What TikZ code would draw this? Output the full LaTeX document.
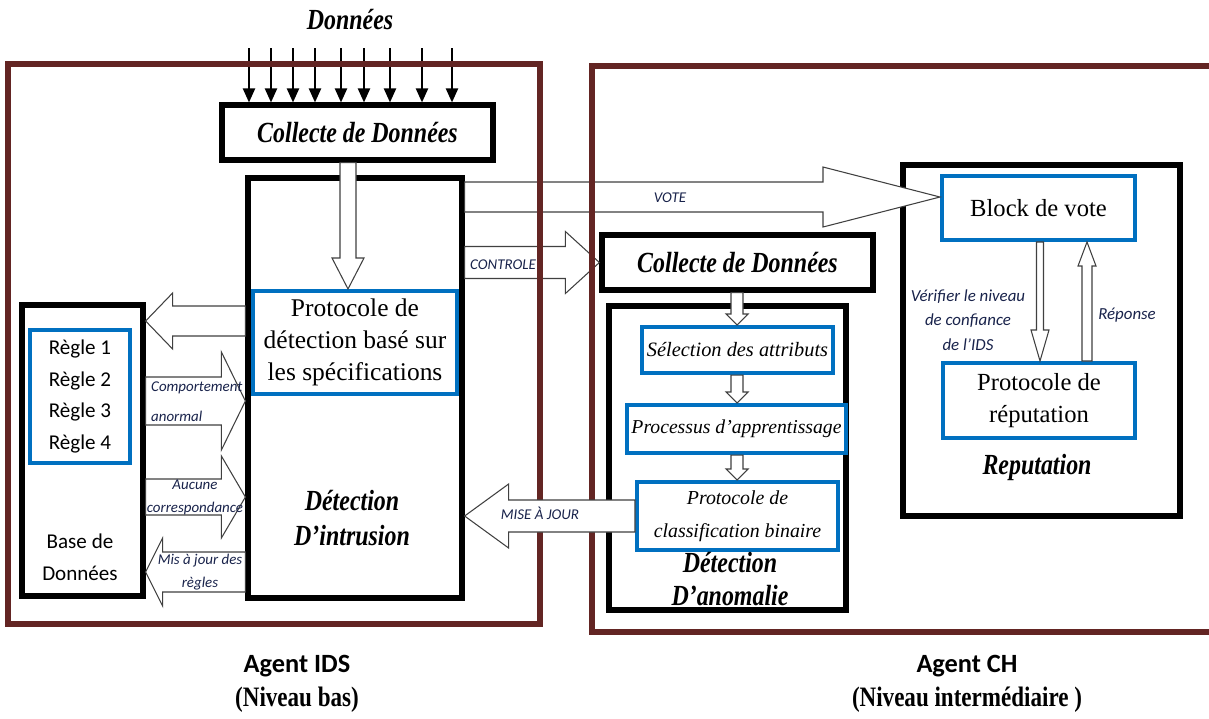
\documentclass[tikz,border=0pt]{standalone}
\usepackage{fontspec}
\setmainfont{Liberation Serif}
\setsansfont{Carlito}
\newfontfamily\condserif[FakeStretch=0.82]{Liberation Serif}
\usetikzlibrary{arrows.meta, calc, positioning}
\usepackage{xcolor}

\definecolor{framebrown}{RGB}{99,37,35}
\definecolor{boxblue}{RGB}{0,112,192}
\definecolor{inkblue}{RGB}{25,35,75}

\tikzset{
  frame/.style={draw=framebrown, line width=3pt},
  blk/.style={draw=black, line width=3pt, fill=white, inner sep=0pt},
  blubox/.style={draw=boxblue, line width=2.3pt, fill=white, inner sep=0pt, align=center},
  ttl/.style={font=\fontsize{16.6}{20}\selectfont\condserif\bfseries\itshape, align=center},
  lbl/.style={font=\fontsize{8.5}{13}\selectfont\sffamily\itshape, text=inkblue, align=center},
  % hollow block arrow: shaft half width / head half width / head length (px)
  fat/.style n args={3}{draw=black!75, fill=white, line width=0.6pt, to path={
    ($(\tikztotarget)!#3*0.02cm!(\tikztostart)$) coordinate (fathead)
    ($(\tikztostart)!#1*0.02cm!90:(\tikztotarget)$)
    -- ($(fathead)!#1*0.02cm!-90:(\tikztostart)$)
    -- ($(fathead)!#2*0.02cm!-90:(\tikztostart)$)
    -- (\tikztotarget)
    -- ($(fathead)!#2*0.02cm!90:(\tikztostart)$)
    -- ($(fathead)!#1*0.02cm!90:(\tikztostart)$)
    -- ($(\tikztostart)!#1*0.02cm!-90:(\tikztotarget)$)
    -- cycle}}
}

\begin{document}
\begin{tikzpicture}[x=0.02cm, y=-0.02cm]
  \useasboundingbox (0,0) rectangle (1209,718);

  % agent IDS
  \node[ttl] (don) at (350,20) {Données};
  \node[blk, ttl, minimum width=5.42cm, minimum height=1.1cm] (coll1) at (357.5,132.5) {Collecte de Données};
  \foreach \x [count=\i] in {249,271,293,315,341,364,390,422,452} {
    \coordinate (in\i) at (\x,48);
    \draw[-{Triangle[length=8pt,width=7pt]}, line width=0.9pt] (in\i) -- (in\i |- coll1.north);
  }

  \node[blk, minimum width=4.28cm, minimum height=8.4cm] (det1) at (355,388) {};
  \node[ttl] (det1lbl) at (352,518) {Détection\\D’intrusion};
  \node[blubox, minimum width=4.08cm, minimum height=2.06cm,
        font=\fontsize{14.5}{18.4}\selectfont] (proto) at (355,342.5)
        {Protocole de\\détection basé sur\\les spécifications};
  \coordinate (pd) at (348,0);
  \draw[fat={8}{16}{31}] (coll1.south -| pd) to (proto.north -| pd);

  \node[blk, minimum width=2.42cm, minimum height=5.82cm] (base) at (82.5,450.5) {};
  \node[blubox, minimum width=2cm, minimum height=2.66cm,
        font=\fontsize{12}{18}\selectfont\sffamily] (rules) at (80,396.5)
        {Règle 1\\Règle 2\\Règle 3\\Règle 4};
  \node[font=\fontsize{12}{18}\selectfont\sffamily, align=center] (baselbl) at (80,557) {Base de\\Données};

  % arrows between base and detection
  \coordinate (lv1) at (0,321);
  \coordinate (lv2) at (0,401);
  \coordinate (lv3) at (0,497);
  \coordinate (lv4) at (0,572);
  \draw[fat={15}{28}{27}] (det1.west |- lv1) to (base.east |- lv1);
  \draw[fat={24}{49}{24}] (base.east |- lv2) to (det1.west |- lv2);
  \draw[fat={18}{41}{24}] (base.east |- lv3) to (det1.west |- lv3);
  \draw[fat={20}{34}{17}] (det1.west |- lv4) to (base.east |- lv4);
  \node[lbl, anchor=west, align=left] (comp) at (145,402) {Comportement\\[4pt]anormal};
  \node[lbl] (aucune) at (195,497) {Aucune\\correspondance};
  \node[lbl] (majregles) at (200,572) {Mis à jour des\\règles};

  % agent CH
  \node[blk, ttl, minimum width=5.42cm, minimum height=1.1cm] (coll2) at (737.5,262.5) {Collecte de Données};
  \node[blk, minimum width=4.74cm, minimum height=6.08cm] (anom) at (727.5,458) {};
  \node[blubox, minimum width=3.82cm, minimum height=0.92cm,
        font=\fontsize{11.6}{14}\selectfont\itshape] (sel) at (737.5,350) {Sélection des attributs};
  \node[blubox, minimum width=4.38cm, minimum height=0.96cm,
        font=\fontsize{11.2}{14}\selectfont\itshape] (proc) at (736.5,429) {Processus d’apprentissage};
  \node[blubox, minimum width=4.02cm, minimum height=1.36cm,
        font=\fontsize{11.3}{18.5}\selectfont\itshape] (classif) at (737.5,516) {Protocole de\\classification binaire};
  \node[ttl, font=\fontsize{16.6}{19.3}\selectfont\condserif\bfseries\itshape] (anomlbl) at (730,579) {Détection\\D’anomalie};
  \coordinate (ad) at (737,0);
  \draw[fat={6}{11}{11}] (coll2.south -| ad) to (sel.north -| ad);
  \draw[fat={6}{11}{11}] (sel.south -| ad) to (proc.north -| ad);
  \draw[fat={6}{11}{11}] (proc.south -| ad) to (classif.north -| ad);

  \node[blk, minimum width=5.54cm, minimum height=7.02cm] (rep) at (1041.5,340.5) {};
  \node[blubox, minimum width=3.86cm, minimum height=1.28cm,
        font=\fontsize{14}{18}\selectfont] (vote) at (1038.5,208) {Block de vote};
  \node[blubox, minimum width=3.84cm, minimum height=1.5cm,
        font=\fontsize{14}{18}\selectfont] (reppro) at (1039,400.5) {Protocole de\\réputation};
  \node[ttl] (replbl) at (1037,467) {Reputation};
  \coordinate (dn) at (1040,0);
  \coordinate (up) at (1087,0);
  \draw[fat={3.5}{9}{31}] (vote.south -| dn) to (reppro.north -| dn);
  \draw[fat={5}{9}{24}] (reppro.north -| up) to (vote.south -| up);
  \node[lbl, font=\fontsize{9.6}{14}\selectfont\sffamily\itshape] (verif) at (968,320)
        {Vérifier le niveau\\de confiance\\de l’IDS};
  \node[lbl, font=\fontsize{9.6}{14}\selectfont\sffamily\itshape] (reponse) at (1127,315) {Réponse};

  % links between agents
  \coordinate (vt) at ([yshift=0.22cm]vote.west);
  \draw[fat={15}{30}{117}] (det1.east |- vt) to (vt);
  \node[lbl] (votelbl) at (670,198) {VOTE};
  \draw[fat={16}{31}{34}] (det1.east |- coll2.west) to (coll2.west);
  \node[lbl, anchor=west] (ctrl) at (464,265) {CONTROLE};

  % agent frames
  \draw[frame] (8,64) rectangle (540,624);
  \draw[frame] (592,66) rectangle (1225,632);

  \draw[fat={16}{32}{44}] (classif.west) to (det1.east |- classif.west);
  \node[lbl] (majlbl) at (540,513) {MISE À JOUR};

  % agent names
  \node[font=\fontsize{15}{18}\selectfont\sffamily\bfseries] (agids) at (297,666) {Agent IDS};
  \node[font=\fontsize{16}{18}\selectfont\condserif\bfseries] (nivbas) at (297,700) {(Niveau bas)};
  \node[font=\fontsize{15}{18}\selectfont\sffamily\bfseries] (agch) at (967,666) {Agent CH};
  \node[font=\fontsize{16}{18}\selectfont\condserif\bfseries] (nivint) at (967,700) {(Niveau intermédiaire )};
\end{tikzpicture}
\end{document}
